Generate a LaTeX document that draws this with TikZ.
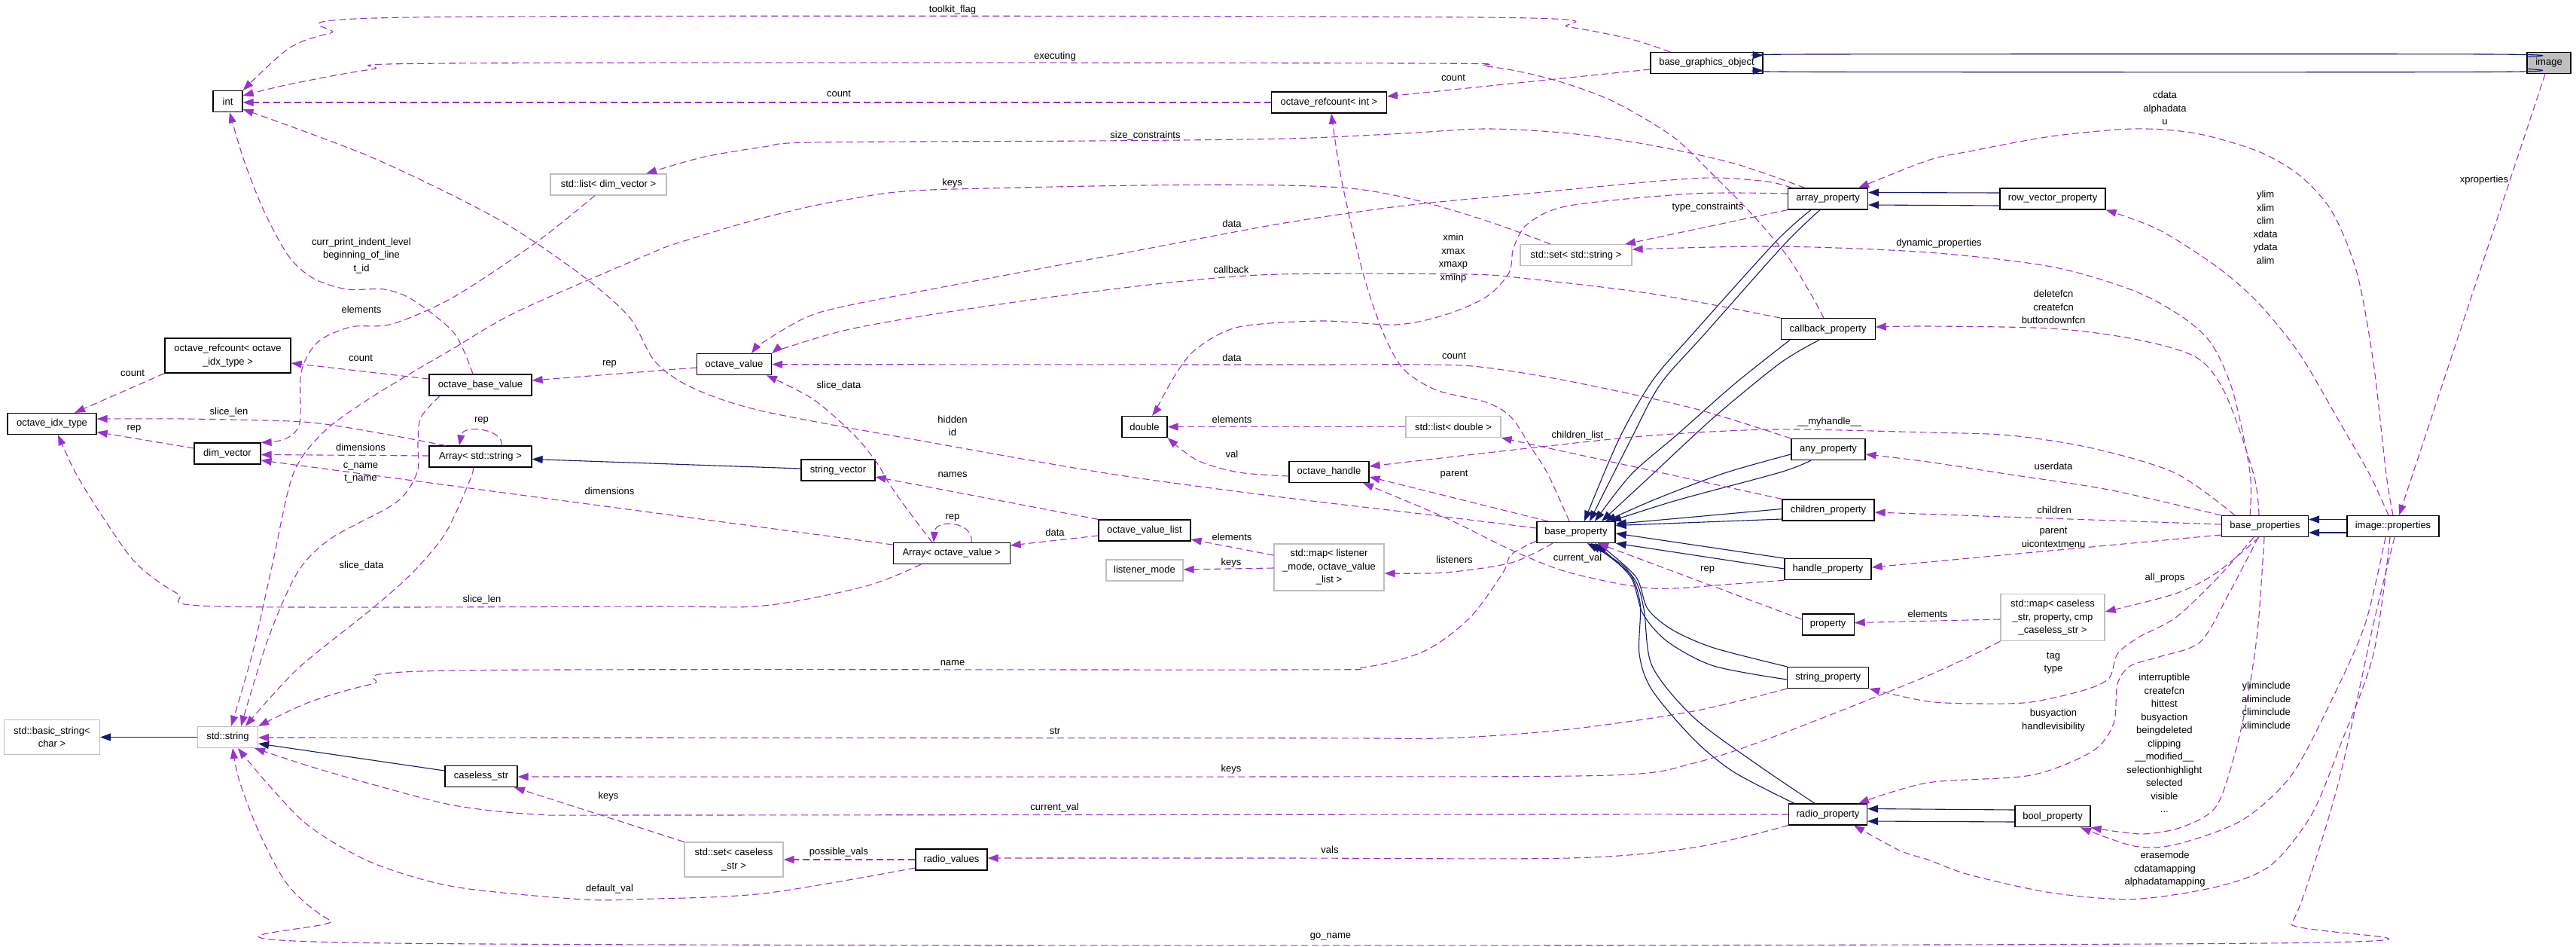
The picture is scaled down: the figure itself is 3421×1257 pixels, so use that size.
\documentclass[tikz,border=0pt]{standalone}
\usepackage{fontspec}
\setmainfont{Liberation Sans}
\usetikzlibrary{arrows.meta}
\definecolor{depc}{HTML}{9A32CD}
\definecolor{inhc}{HTML}{191970}
\definecolor{gbd}{HTML}{BFBFBF}
\newcommand{\dfont}{\fontsize{13}{17.5}\selectfont}
\begin{document}
\begin{tikzpicture}[x=1pt,y=-1pt,
  box/.style={draw=black, line width=1.2pt, fill=white, minimum height=28pt, inner sep=0pt, font=\dfont, align=center},
  gbox/.style={box, draw=gbd},
  lbl/.style={font=\dfont, align=center, inner sep=0pt},
  dep/.style={draw=depc, line width=1.1pt, dash pattern=on 9pt off 5pt, -{Triangle[length=14pt,width=10pt]}},
  inh/.style={draw=inhc, line width=1.1pt, -{Triangle[length=14pt,width=10pt]}},
  sm/.style={smooth, tension=0.5}
]
\useasboundingbox (0,0) rectangle (3421,1257);
\fill[white] (0,0) rectangle (3421,1257);

% ---------- nodes ----------
\node[box, minimum width=58pt, fill=gbd] (image) at (3385,83.6) {image};
\node[box, minimum width=149pt] (bgo) at (2266.5,83.6) {base\_graphics\_object};
\node[box, minimum width=153pt] (rcint) at (1765,136) {octave\_refcount< int >};
\node[box, minimum width=39pt] (int) at (302.5,134.6) {int};
\node[gbox, minimum width=154pt] (listdv) at (808,245) {std::list< dim\_vector >};
\node[box, minimum width=106pt] (arrayprop) at (2427.5,264) {array\_property};
\node[box, minimum width=140pt] (rowvec) at (2726,264) {row\_vector\_property};
\node[gbox, minimum width=148pt] (setstr) at (2093,338.7) {std::set< std::string >};
\node[box, minimum width=125pt] (cbprop) at (2427.6,436.7) {callback\_property};
\node[box, minimum width=99pt] (ovalue) at (975,483.7) {octave\_value};
\node[box, minimum width=167pt, minimum height=46pt] (rcidx) at (302.5,472) {octave\_refcount< octave\\\_idx\_type >};
\node[box, minimum width=136pt] (obv) at (638,511) {octave\_base\_value};
\node[box, minimum width=118pt] (idx) at (69,562.5) {octave\_idx\_type};
\node[box, minimum width=60pt] (dbl) at (1520,566.5) {double};
\node[gbox, minimum width=126pt] (listdbl) at (1930,566.5) {std::list< double >};
\node[box, minimum width=98pt] (anyprop) at (2428,596.6) {any\_property};
\node[box, minimum width=88pt] (dimv) at (302,602) {dim\_vector};
\node[box, minimum width=136pt] (arrstr) at (638,606) {Array< std::string >};
\node[box, minimum width=98pt] (strvec) at (1113,624) {string\_vector};
\node[box, minimum width=106pt] (ohandle) at (1765,626.5) {octave\_handle};
\node[box, minimum width=122pt] (childprop) at (2428,677) {children\_property};
\node[box, minimum width=104pt] (bprop) at (2093,706.5) {base\_property};
\node[box, minimum width=115pt] (bprops) at (3008,698.6) {base\_properties};
\node[box, minimum width=122pt] (improps) at (3178,698.6) {image::properties};
\node[box, minimum width=122pt] (ovl) at (1520,704) {octave\_value\_list};
\node[box, minimum width=155pt] (arrov) at (1263.6,734.6) {Array< octave\_value >};
\node[gbox, minimum width=102pt] (lmode) at (1520,757) {listener\_mode};
\node[gbox, minimum width=146pt, minimum height=62pt] (maplm) at (1765,753) {std::map< listener\\\_mode, octave\_value\\\_list >};
\node[box, minimum width=115pt] (hprop) at (2427.5,755.6) {handle\_property};
\node[gbox, minimum width=138pt, minimum height=62pt] (mapcs) at (2726,819.7) {std::map< caseless\\\_str, property, cmp\\\_caseless\_str >};
\node[box, minimum width=69pt] (property) at (2427.6,829) {property};
\node[box, minimum width=108pt] (strprop) at (2427.8,899.5) {string\_property};
\node[gbox, minimum width=127pt, minimum height=46pt] (bstr) at (69,978.5) {std::basic\_string<\\char >};
\node[gbox, minimum width=80pt] (stdstr) at (302.5,978.5) {std::string};
\node[box, minimum width=96pt] (cstr) at (639,1030.5) {caseless\_str};
\node[box, minimum width=104pt] (radprop) at (2427.5,1081) {radio\_property};
\node[box, minimum width=100pt] (boolprop) at (2726,1083.8) {bool\_property};
\node[gbox, minimum width=131pt, minimum height=46pt] (setcs) at (974.5,1141) {std::set< caseless\\\_str >};
\node[box, minimum width=95pt] (radval) at (1263.5,1141) {radio\_values};

% ---------- inheritance ----------
\draw[inh] plot[sm] coordinates {(image.west |- 0,75.5) (3300,72) (2420,72) (bgo.east |- 0,73.5)};
\draw[inh] plot[sm] coordinates {(image.west |- 0,91.5) (3300,95.5) (2420,95.5) (bgo.east |- 0,93.5)};
\draw[inh] (rowvec.west |- 0,256) -- (arrayprop.east |- 0,255.5);
\draw[inh] (rowvec.west |- 0,273) -- (arrayprop.east |- 0,272);
\draw[inh] (improps.west |- 0,689.5) -- (bprops.east |- 0,689.5);
\draw[inh] (improps.west |- 0,707) -- (bprops.east |- 0,707);
\draw[inh] (boolprop.west |- 0,1075) -- (radprop.east |- 0,1073.5);
\draw[inh] (boolprop.west |- 0,1091) -- (radprop.east |- 0,1090);
\draw[inh] (strvec.west |- 0,622) -- (arrstr.east |- 0,609.5);
\draw[inh] (stdstr.west) -- (bstr.east);
\draw[inh] (cstr.west |- 0,1023) -- (stdstr.east |- 0,987);
\draw[inh] plot[sm] coordinates {(arrayprop.south -| 2405,0) (2358,321) (2249,442) (2194,506) (2150,583) (bprop.north -| 2104,0)};
\draw[inh] plot[sm] coordinates {(arrayprop.south -| 2417,0) (2369,325) (2265,442) (2205,510) (2166,583) (bprop.north -| 2111,0)};
\draw[inh] plot[sm] coordinates {(cbprop.south -| 2377,0) (2303,510) (2226,578) (2166,630) (bprop.north -| 2118,0)};
\draw[inh] plot[sm] coordinates {(cbprop.south -| 2416,0) (2364,482) (2276,554) (2194,630) (bprop.north -| 2127,0)};
\draw[inh] plot[sm] coordinates {(anyprop.west |- 0,603) (2290,628) (2200,662) (bprop.north -| 2132,0)};
\draw[inh] plot[sm] coordinates {(anyprop.south -| 2405,0) (2364,627) (2227,664) (bprop.north -| 2139,0)};
\draw[inh] (childprop.west |- 0,675.5) -- (bprop.east |- 0,695.5);
\draw[inh] (childprop.west |- 0,689) -- (bprop.east |- 0,697.5);
\draw[inh] (hprop.north west) -- (bprop.east |- 0,708);
\draw[inh] (hprop.west |- 0,755) -- (bprop.south east);
\draw[inh] plot[sm] coordinates {(strprop.north west) (2276,860) (2221,836) (2188,808) (2172,765) (bprop.south -| 2122,0)};
\draw[inh] plot[sm] coordinates {(strprop.west |- 0,902) (2276,884) (2215,852) (2182,815) (2165,765) (bprop.south -| 2118,0)};
\draw[inh] plot[sm] coordinates {(radprop.north -| 2383,0) (2303,1025) (2249,981) (2194,916) (2177,868) (2178,800) (2160,755) (bprop.south -| 2108,0)};
\draw[inh] plot[sm] coordinates {(radprop.north -| 2410,0) (2331,1013) (2249,952) (2194,884) (2183,808) (2168,765) (bprop.south -| 2113,0)};

% ---------- dependencies ----------
\draw[dep] plot[sm] coordinates {(bgo.north -| 2218,0) (2166,52) (2084,36) (1963,23) (548,23) (439,44) (384,64) (int.north east)};
\draw[dep] plot[sm] coordinates {(cbprop.north -| 2422,0) (2407,394) (2375,342) (2331,289) (2276,233) (2221,181) (2139,133) (2056,104) (1974,88) (1864,84) (603,84) (494,92) (384,112) (int.east |- 0,127)};
\draw[dep] (rcint.west) -- (int.east |- rcint.west);
\draw[dep] plot[sm] coordinates {(bprop.west |- 0,701) (1870,680) (1710,661) (1481,630) (1234,587) (1014,546) (920,515) (870,480) (835,420) (768,362) (658,289) (494,209) (int.east |- 0,145)};
\draw[dep] plot[sm] coordinates {(obv.north -| 628,0) (603,442) (548,398) (510,384) (461,384) (417,370) (384,341) (351,281) (324,213) (int.south -| 305,0)};
\draw[dep] (rcidx.south west) -- (idx.north -| 99,0);
\draw[dep] (obv.west |- 0,503) -- (rcidx.east |- 0,482);
\draw[dep] plot[sm] coordinates {(listdv.south -| 790,0) (713,321) (603,394) (521,430) (466,434) (422,454) (400,494) (398,562) (378,583) (dimv.north east)};
\draw[dep] (ovalue.west |- 0,488) -- (obv.east |- 0,505);
\draw[dep] (dimv.west |- 0,595) -- (idx.east |- 0,573.5);
\draw[dep] plot[sm] coordinates {(arrstr.north -| 592,0) (521,578) (439,564) (384,559) (247,556) (idx.east |- 0,556)};
\draw[dep] (arrstr.north -| 666,0) .. controls (670,570) and (615,562) .. (arrstr.north -| 610,0);
\draw[dep] (arrstr.west |- 0,605) -- (dimv.east |- 0,603.5);
\draw[dep] plot[sm] coordinates {(obv.south -| 584,0) (559,554) (555,587) (554,627) (526,667) (439,715) (395,760) (356,848) (stdstr.north -| 320,0)};
\draw[dep] (arrov.west |- 0,723) -- (dimv.east |- 0,611);
\draw[dep] plot[sm] coordinates {(arrstr.south -| 628,0) (625,635) (592,707) (548,760) (494,808) (395,888) (stdstr.north -| 326,0)};
\draw[dep] plot[sm] coordinates {(arrov.north -| 1238,0) (1201,671) (1179,639) (1165,615) (1135,578) (1080,530) (ovalue.south -| 1018,0)};
\draw[dep] plot[sm] coordinates {(arrov.south -| 1223,0) (1150,778) (1014,804) (860,805) (291,805) (236,788) (181,748) (137,687) (100,627) (idx.south -| 77,0)};
\draw[dep] (arrov.north -| 1290,0) .. controls (1294,692) and (1242,688) .. (arrov.north -| 1240,0);
\draw[dep] (ovl.west |- 0,711) -- (arrov.east |- 0,724);
\draw[dep] (ovl.north west) -- (strvec.east |- 0,633);
\draw[dep] (setcs.north west) -- (cstr.south -| 683,0);
\draw[dep] (radval.west) -- (setcs.east);
\draw[dep] plot[sm] coordinates {(radval.west |- 0,1152) (1014,1186) (850,1193.5) (768,1193.5) (603,1177) (494,1145) (411,1097) (356,1041) (stdstr.south -| 316,0)};
\draw[dep] plot[sm] coordinates {(radprop.west) (2000,1081) (860,1082) (713,1081) (603,1069) (494,1041) (411,1017) (stdstr.south -| 338,0)};
\draw[dep] plot[sm] coordinates {(radprop.south west) (2249,1125) (2084,1139) (1700,1139) (radval.east |- 0,1139)};
\draw[dep] plot[sm] coordinates {(mapcs.south west) (2560,897) (2358,977) (2249,1013) (2139,1029) (1700,1031) (cstr.east |- 0,1031)};
\draw[dep] plot[sm] coordinates {(strprop.south west) (2249,944) (2084,968) (1919,979.7) (1700,979.7) (stdstr.east |- 0,979)};
\draw[dep] plot[sm] coordinates {(bprop.west |- 0,718) (2007,736) (1996,760) (1952,820) (1892,864) (1810,886) (1700,889) (603,890) (494,908) (411,932) (stdstr.north east)};
\draw[dep] plot[sm] coordinates {(improps.south -| 3180,0) (3152,828) (3108,1029) (3070,1157) (3043,1226) (3010,1252) (521,1252) (439,1222) (384,1177) (346,1109) (318,1037) (stdstr.south -| 309,0)};
\draw[dep] plot[sm] coordinates {(setstr.north -| 2059,0) (1793,250) (1267,251) (1124,265) (1014,289) (905,321) (860,338) (686,414) (603,462) (548,494) (483,534) (428,575) (389,630) (362,748) (335,868) (stdstr.north -| 307,0)};
\draw[dep] plot[sm] coordinates {(arrayprop.north -| 2397,0) (2303,217) (2194,193) (2084,177) (1974,171) (1865,177) (1710,184) (1453,187) (1080,189) (1014,195) (932,209) (listdv.north -| 858,0)};
\draw[dep] plot[sm] coordinates {(arrayprop.north -| 2380,0) (2347,241) (2276,236) (2194,241) (2029,257) (1865,273) (1700,297) (1508,333) (1289,374) (1124,406) (1069,422) (1014,454) (ovalue.north -| 998,0)};
\draw[dep] plot[sm] coordinates {(cbprop.north west) (2194,390) (2029,370) (1947,364) (1700,364) (1563,374) (1398,394) (1234,418) (1124,438) (1042,462) (ovalue.north east)};
\draw[dep] plot[sm] coordinates {(anyprop.north west) (2249,542) (2084,506) (1974,488) (1900,484) (1700,484) (ovalue.east)};
\draw[dep] plot[sm] coordinates {(bprop.north -| 2084,0) (2056,630) (2034,595) (2007,554) (1974,534) (1908,518) (1864,490) (1837,442) (1810,362) (1782,241) (rcint.south -| 1768,0)};
\draw[dep] plot[sm] coordinates {(arrayprop.west |- 0,257) (2249,257) (2084,273) (2029,297) (2010,329) (2004,362) (1974,394) (1919,418) (1854,431) (1755,426) (1645,434) (1590,462) (1563,494) (1536,542) (dbl.north -| 1530,0)};
\draw[dep] (listdbl.west) -- (dbl.east);
\draw[dep] plot[sm] coordinates {(ohandle.west |- 0,632) (1645,627) (1590,611) (dbl.south east)};
\draw[dep] (childprop.north west) -- (listdbl.south east);
\draw[dep] plot[sm] coordinates {(bprops.north -| 2968,0) (2889,628) (2779,595) (2670,578) (2560,574) (2358,570) (2194,578) (2029,595) (ohandle.east |- 0,619)};
\draw[dep] (bprop.north -| 2056,0) -- (ohandle.east |- 0,633);
\draw[dep] plot[sm] coordinates {(hprop.south west) (2303,775) (2194,781) (2084,760) (2007,730) (1919,687) (ohandle.south -| 1810,0)};
\draw[dep] plot[sm] coordinates {(bprop.south -| 2062,0) (2007,747) (1919,760) (maplm.east |- 0,761)};
\draw[dep] (maplm.west |- 0,737) -- (ovl.east |- 0,716);
\draw[dep] (maplm.west |- 0,754) -- (lmode.east |- 0,756);
\draw[dep] (property.west |- 0,822) -- (bprop.south -| 2122,0);
\draw[dep] (mapcs.west |- 0,822) -- (property.east |- 0,826.6);
\draw[dep] plot[sm] coordinates {(bprops.south -| 3000,0) (2944,760) (2889,788) (mapcs.east |- 0,812)};
\draw[dep] plot[sm] coordinates {(bprops.north -| 2988,0) (2988,627) (2966,522) (2938,458) (2900,422) (2834,386) (2724,354) (2560,335) (2358,327) (setstr.east |- 0,331)};
\draw[dep] plot[sm] coordinates {(bprops.north -| 3000,0) (2993,630) (2955,522) (2916,474) (2834,450) (2724,436) (2560,433) (cbprop.east |- 0,434)};
\draw[dep] plot[sm] coordinates {(bprops.north west) (2800,650) (2670,630) (2560,613) (anyprop.east |- 0,603)};
\draw[dep] (bprops.west |- 0,696) -- (childprop.east |- 0,680);
\draw[dep] (bprops.west |- 0,710) -- (hprop.east |- 0,753);
\draw[dep] plot[sm] coordinates {(bprops.south -| 2993,0) (2944,768) (2889,820) (2840,846) (2812,868) (2801,900) (2768,916) (2697,932) (2631,934) (2560,931) (strprop.south east)};
\draw[dep] plot[sm] coordinates {(bprops.south -| 2999,0) (2960,788) (2922,852) (2867,872) (2829,884) (2812,908) (2807,960) (2779,997) (2697,1029) (2560,1039) (radprop.north -| 2468,0)};
\draw[dep] plot[sm] coordinates {(bprops.south -| 3007,0) (2999,828) (2988,908) (2971,989) (2944,1069) (2900,1097) (2845,1107) (boolprop.south east)};
\draw[dep] plot[sm] coordinates {(improps.south -| 3168,0) (3141,828) (3097,928) (3043,1029) (2977,1089) (2889,1121) (2834,1123) (boolprop.south -| 2763,0)};
\draw[dep] plot[sm] coordinates {(improps.south -| 3174,0) (3152,868) (3108,989) (3070,1081) (3015,1149) (2944,1177) (2834,1193.5) (2724,1185) (2615,1161) (2560,1141) (2523,1129) (radprop.south -| 2462,0)};
\draw[dep] plot[sm] coordinates {(improps.north -| 3172,0) (3147,630) (3108,562) (3054,470) (2999,402) (2944,354) (2867,305) (rowvec.south east)};
\draw[dep] plot[sm] coordinates {(improps.north -| 3178,0) (3169,630) (3152,482) (3130,362) (3097,281) (3054,233) (2999,201) (2916,177) (2834,171) (2724,181) (2615,201) (2560,213) (arrayprop.north -| 2468,0)};
\draw[dep] (image.south -| 3380,0) -- (improps.north -| 3186,0);
\draw[dep] (bgo.west |- 0,92) -- (rcint.east |- 0,128);
\draw[dep] (arrayprop.south west) -- (setstr.north -| 2158,0);

% ---------- labels ----------
\node[lbl] (l1) at (1265,13) {toolkit\_flag};
\node[lbl] (l2) at (1401,75) {executing};
\node[lbl] (l3) at (1114,124.5) {count};
\node[lbl] (l4) at (1930,103) {count};
\node[lbl] (l5) at (1521,179.6) {size\_constraints};
\node[lbl] (l6) at (2875,143.6) {cdata\\alphadata\\u};
\node[lbl] (l7) at (3299,239.5) {xproperties};
\node[lbl] (l8) at (1264.6,242.7) {keys};
\node[lbl] (l9) at (2268,275.6) {type\_constraints};
\node[lbl] (l10) at (1636,296.5) {data};
\node[lbl] (l11) at (3008.6,301.7) {ylim\\xlim\\clim\\xdata\\ydata\\alim};
\node[lbl] (l12) at (480,339.5) {curr\_print\_indent\_level\\beginning\_of\_line\\t\_id};
\node[lbl] (l13) at (1930,342.7) {xmin\\xmax\\xmaxp\\xminp};
\node[lbl] (l14) at (1635,358) {callback};
\node[lbl] (l15) at (2575,323.4) {dynamic\_properties};
\node[lbl] (l16) at (2727,407.6) {deletefcn\\createfcn\\buttondownfcn};
\node[lbl] (l17) at (480,410.6) {elements};
\node[lbl] (l18) at (1931,472) {count};
\node[lbl] (l19) at (1636,474.5) {data};
\node[lbl] (l20) at (479,475.7) {count};
\node[lbl] (l21) at (809.5,483) {rep};
\node[lbl] (l22) at (176,495.4) {count};
\node[lbl] (l23) at (1114,512) {slice\_data};
\node[lbl] (l24) at (304,547) {slice\_len};
\node[lbl] (l25) at (1265,565.5) {hidden\\id};
\node[lbl] (l26) at (1636,556.4) {elements};
\node[lbl] (l27) at (639.5,558.5) {rep};
\node[lbl] (l28) at (2429.5,559.7) {\_\_myhandle\_\_};
\node[lbl] (l29) at (178,569) {rep};
\node[lbl] (l30) at (2095,578.5) {children\_list};
\node[lbl] (l31) at (479,594) {dimensions};
\node[lbl] (l32) at (1636,602.6) {val};
\node[lbl] (l33) at (2727,618.7) {userdata};
\node[lbl] (l34) at (479,628) {c\_name\\t\_name};
\node[lbl] (l35) at (1265,630) {names};
\node[lbl] (l36) at (1931,630) {parent};
\node[lbl] (l37) at (809.5,652) {dimensions};
\node[lbl] (l38) at (2728,676.4) {children};
\node[lbl] (l39) at (1265,687) {rep};
\node[lbl] (l40) at (2727,713.5) {parent\\uicontextmenu};
\node[lbl] (l41) at (1401,706.5) {data};
\node[lbl] (l42) at (1636,712.6) {elements};
\node[lbl] (l43) at (2095,740.7) {current\_val};
\node[lbl] (l44) at (1931.5,742.7) {listeners};
\node[lbl] (l45) at (1635,746.7) {keys};
\node[lbl] (l46) at (480,751) {slice\_data};
\node[lbl] (l47) at (2267.6,756.8) {rep};
\node[lbl] (l48) at (2875,766.8) {all\_props};
\node[lbl] (l49) at (640,796) {slice\_len};
\node[lbl] (l50) at (2560,814.6) {elements};
\node[lbl] (l51) at (2727,880) {tag\\type};
\node[lbl] (l52) at (1265,880) {name};
\node[lbl] (l53) at (2874.3,986.7) {interruptible\\createfcn\\hittest\\busyaction\\beingdeleted\\clipping\\\_\_modified\_\_\\selectionhighlight\\selected\\visible\\...};
\node[lbl] (l54) at (3009.7,936.4) {yliminclude\\aliminclude\\climinclude\\xliminclude};
\node[lbl] (l55) at (2727,956) {busyaction\\handlevisibility};
\node[lbl] (l56) at (1401,970.5) {str};
\node[lbl] (l57) at (1635,1020.7) {keys};
\node[lbl] (l58) at (808,1057) {keys};
\node[lbl] (l59) at (1400.6,1071.8) {current\_val};
\node[lbl] (l60) at (1766,1128) {vals};
\node[lbl] (l61) at (1114,1131.6) {possible\_vals};
\node[lbl] (l62) at (2875,1154) {erasemode\\cdatamapping\\alphadatamapping};
\node[lbl] (l63) at (809.5,1180) {default\_val};
\node[lbl] (l64) at (1767,1243) {go\_name};
\end{tikzpicture}
\end{document}
